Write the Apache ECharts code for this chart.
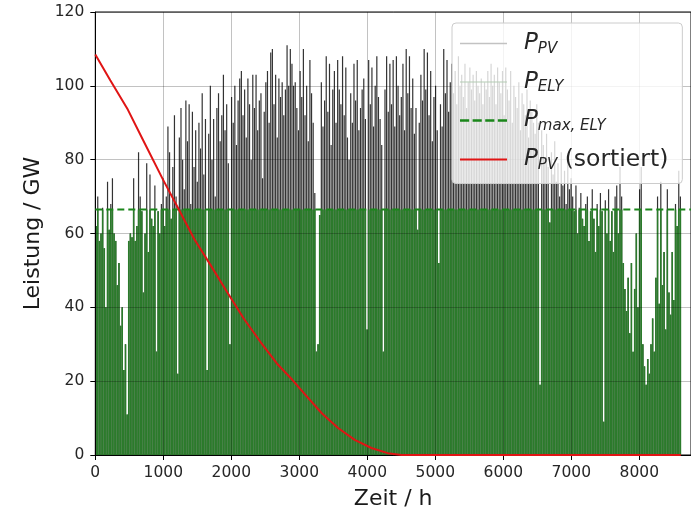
<!DOCTYPE html>
<html>
<head>
<meta charset="utf-8">
<script src="https://cdn.jsdelivr.net/npm/echarts@6/dist/echarts.min.js"></script>
<style>
html,body{margin:0;padding:0;background:#fff;}
#chart{width:691px;height:515px;}
</style>
</head>
<body>
<div id="chart"></div>
<script>
// Daily peak PV power (GW), one value per day (peak placed at hour 12 of the day)
const pvDailyPeak = [
  62,70,58,60,67,56,40,74,61,68,75,60,58,46,52,35,40,23,30,11,58,60,59,75,58,62,82,70,66,44,
  60,79,55,76,64,62,73,28,66,60,68,75,62,70,89,82,64,78,92,70,22,86,94,80,72,96,85,95,68,93,
  78,88,74,90,83,98,76,91,23,87,100,80,91,70,94,98,85,92,103,88,95,79,30,97,90,100,84,96,102,104,
  92,99,86,102,95,80,103,94,103,88,96,98,75,93,101,104,90,109,110,95,103,86,102,97,101,92,99,111,100,110,
  106,100,101,94,88,104,97,110,92,100,85,107,98,90,71,28,30,65,101,89,96,108,93,106,84,99,104,90,107,99,
  95,108,92,105,86,80,98,90,106,96,107,88,94,99,102,91,34,107,95,105,89,100,108,97,91,84,28,99,108,93,
  106,95,107,89,108,100,92,97,106,88,110,98,108,94,102,87,94,61,90,103,96,110,99,109,92,104,85,97,100,88,
  52,95,89,110,98,107,93,101,106,98,104,95,108,100,103,97,106,94,101,105,99,103,96,104,100,98,102,95,101,99,
  104,97,106,100,103,95,105,101,98,104,92,105,99,96,104,90,100,97,94,101,88,98,95,92,99,86,96,93,90,87,
  95,90,19,88,84,80,87,78,63,82,76,85,74,79,70,82,73,77,68,80,72,75,70,66,73,60,67,71,64,62,
  68,70,58,66,72,64,55,68,62,71,66,9,69,60,72,58,66,55,70,73,60,78,70,52,45,39,48,33,52,28,
  45,60,40,72,78,30,24,19,26,22,30,37,28,48,70,41,74,46,55,34,72,44,38,55,42,68,62,77,70
];
const hoursPerDay = 24;
const peakHourOfDay = 12;
// Electrolyser rated power (GW)
const pMaxEly = 66.5;
// Sorted PV power (duration curve)
const sortedHours  = [0, 220, 480, 700, 990, 1240, 1455, 1700, 1940, 2185, 2430, 2670, 2900, 3090, 3330, 3570, 3815, 4060, 4300, 4500, 8610];
const sortedValues = [108.5, 101.5, 93.5, 85.4, 74.8, 66.1, 58.5, 51.3, 44.1, 36.9, 30.6, 24.8, 20.3, 16.3, 11.3, 7.3, 4.1, 1.9, 0.5, 0, 0];
// Axes
const xMin = 0, xMax = 8760, xStep = 1000;
const yMin = 0, yMax = 120, yStep = 20;
const xName = 'Zeit / h';
const yName = 'Leistung / GW';

const pvData = pvDailyPeak.map((v, d) => [d * hoursPerDay + peakHourOfDay, v]);
const elyData = pvDailyPeak.map((v, d) => [d * hoursPerDay + peakHourOfDay, Math.min(v, pMaxEly)]);
const sortedData = sortedHours.map((h, i) => [h, sortedValues[i]]);
const capData = [[xMin, pMaxEly], [xMax, pMaxEly]];

const FONT = 'DejaVu Sans';
const chart = echarts.init(document.getElementById('chart'), null, {renderer: 'canvas'});

const legendLabels = {
  'PV': '{g| }{m|P}{s|PV}',
  'ELY': '{g| }{m|P}{s|ELY}',
  'MAX': '{g| }{m|P}{s|max, ELY}',
  'SORT': '{g| }{m|P}{s|PV}{n| (sortiert)}'
};

const gridLine = {show: true, lineStyle: {color: 'rgba(0,0,0,0.3)', width: 0.8}};

chart.setOption({
  animation: false,
  backgroundColor: '#ffffff',
  grid: {left: 95.3, top: 12, width: 600, height: 445, show: true, borderColor: '#000', borderWidth: 1, backgroundColor: 'transparent'},
  xAxis: [{
    type: 'value', min: xMin, max: xMax, interval: xStep, z: 3,
    name: xName, nameLocation: 'middle', nameGap: 33,
    nameTextStyle: {fontFamily: FONT, fontSize: 22, color: '#1a1a1a'},
    axisLine: {show: true, lineStyle: {color: '#000', width: 1}},
    axisTick: {show: true, inside: false, length: 5, lineStyle: {color: '#000'}},
    axisLabel: {fontFamily: FONT, fontSize: 15.5, color: '#262626', margin: 10, showMaxLabel: false, formatter: v => String(v)},
    splitLine: gridLine
  }, {
    type: 'value', min: xMin, max: xMax, show: false, position: 'bottom',
    splitLine: {show: false}
  }],
  yAxis: {
    type: 'value', min: yMin, max: yMax, interval: yStep, z: 3,
    name: yName, nameLocation: 'middle', nameGap: 50, nameRotate: 90,
    nameTextStyle: {fontFamily: FONT, fontSize: 22, color: '#1a1a1a'},
    axisLine: {show: true, lineStyle: {color: '#000', width: 1}},
    axisTick: {show: true, inside: false, length: 5, lineStyle: {color: '#000'}},
    axisLabel: {fontFamily: FONT, fontSize: 15.5, color: '#262626', margin: 11},
    splitLine: gridLine
  },
  legend: {
    show: true, z: 10, left: 452, top: 23, orient: 'vertical',
    itemGap: 14, itemWidth: 47, itemHeight: 10,
    padding: [9, 14, 11, 8],
    backgroundColor: 'rgba(255,255,255,0.8)', borderColor: '#cccccc', borderWidth: 1, borderRadius: 4,
    selectedMode: false,
    data: [
      {name: 'PV', icon: 'path://M0,0h47v1.5h-47z', itemStyle: {color: '#c2c2c2', borderWidth: 0}},
      {name: 'ELY', icon: 'path://M0,0h47v1.2h-47z', itemStyle: {color: '#b4cbb4', borderWidth: 0}},
      {name: 'MAX', icon: 'path://M0,0h8v2h-8zM11,0h8v2h-8zM22,0h8v2h-8zM33,0h8v2h-8z', itemStyle: {color: '#1a861a', borderWidth: 0}},
      {name: 'SORT', icon: 'path://M0,0h47v2h-47z', itemStyle: {color: '#e01414', borderWidth: 0}}
    ],
    formatter: name => legendLabels[name],
    textStyle: {
      fontFamily: FONT, color: '#262626',
      rich: {
        g: {width: 12, fontSize: 10},
        m: {fontFamily: FONT, fontSize: 23, fontStyle: 'italic', color: '#262626', lineHeight: 28},
        s: {fontFamily: FONT, fontSize: 15, fontStyle: 'italic', color: '#262626', padding: [11, 0, 0, 0]},
        n: {fontFamily: FONT, fontSize: 23.5, color: '#262626', lineHeight: 28}
      }
    }
  },
  series: [
    {
      name: 'PV', type: 'bar', data: pvData, barWidth: 1.2, xAxisIndex: 1, z: 1,
      itemStyle: {color: '#333333'}
    },
    {
      name: 'ELY', type: 'bar', data: elyData, barWidth: 1.6, xAxisIndex: 0, z: 2,
      itemStyle: {color: '#2b7b2b'}
    },
    {
      name: 'MAX', type: 'line', data: capData, z: 4, symbol: 'none',
      lineStyle: {color: '#1a861a', width: 2, type: [7, 4]}
    },
    {
      name: 'SORT', type: 'line', data: sortedData, z: 5, symbol: 'none',
      smooth: false,
      lineStyle: {color: '#e01414', width: 2}
    }
  ]
});
</script>
</body>
</html>
